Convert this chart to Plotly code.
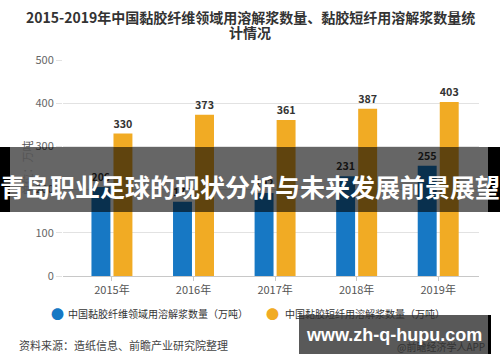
import plotly.graph_objects as go

years = ["2015年", "2016年", "2017年", "2018年", "2019年"]
viscose_fiber = [206, 172, 192, 231, 255]
viscose_staple = [330, 373, 361, 387, 403]
series_names = ["中国黏胶纤维领域用溶解浆数量（万吨）", "中国黏胶短纤用溶解浆数量（万吨）"]
colors = ["#1778c4", "#f1ab24"]
y_ticks = [0, 100, 200, 300, 400, 500]

W, H = 500, 362
L, R, T, B = 63, 21, 60, 86
PW, PH = W - L - R, H - T - B
FONT = "Noto Sans CJK SC"


def px(x):
    return (x - L) / PW


def py(y):
    return (H - B - y) / PH


fig = go.Figure()
for name, vals, c in zip(series_names, [viscose_fiber, viscose_staple], colors):
    fig.add_trace(go.Bar(
        x=years, y=vals, name=name, marker=dict(color=c, line=dict(width=0)),
        text=vals, textposition="outside", cliponaxis=False,
        textfont=dict(size=11, color="#333", family=FONT, weight="bold"),
        showlegend=False,
    ))

fig.update_layout(
    width=W, height=H, margin=dict(l=L, r=R, t=T, b=B),
    paper_bgcolor="white", plot_bgcolor="white",
    barmode="group", bargap=0.46, bargroupgap=0.14,
    font=dict(family=FONT, color="#666"),
    xaxis=dict(range=[-0.6, 4.5], showline=True, linecolor="#c8c8c8", linewidth=1,
               ticks="outside", ticklen=4, tickcolor="#c8c8c8",
               tickfont=dict(size=11, color="#555")),
    yaxis=dict(range=[0, 500], tickvals=y_ticks, showgrid=True, gridcolor="#e2e2e2",
               zeroline=False, ticks="outside", ticklen=6, tickcolor="#e2e2e2",
               tickfont=dict(size=11, color="#666"),
               title=dict(text="单位：万吨", font=dict(size=11, color="#555"), standoff=0)),
)

ann = []
# title
ann.append(dict(x=px(250), y=py(17), text="<b>2015-2019年中国黏胶纤维领域用溶解浆数量、黏胶短纤用溶解浆数量统</b>",
                font=dict(size=14, color="#333", family=FONT)))
ann.append(dict(x=px(250), y=py(32), text="<b>计情况</b>", font=dict(size=14, color="#333", family=FONT)))
# legend
ann.append(dict(x=px(57), y=py(313), text="●", font=dict(size=13, color=colors[0])))
ann.append(dict(x=px(66), y=py(313), text=series_names[0], xanchor="left",
                font=dict(size=10, color="#333", family=FONT)))
ann.append(dict(x=px(272), y=py(313), text="●", font=dict(size=13, color=colors[1])))
ann.append(dict(x=px(283), y=py(313), text=series_names[1], xanchor="left",
                font=dict(size=10, color="#333", family=FONT)))
# source
ann.append(dict(x=px(17), y=py(345), text="资料来源：造纸信息、前瞻产业研究院整理", xanchor="left",
                font=dict(size=11, color="#444", family=FONT)))
ann.append(dict(x=px(487), y=py(346), text="@前瞻经济学人APP", xanchor="right",
                font=dict(size=10, color="#333", family=FONT)))
# overlay banner text
ann.append(dict(x=px(250), y=py(186), text="<b>青岛职业足球的现状分析与未来发展前景展望</b>",
                font=dict(size=25, color="white", family=FONT)))
ann.append(dict(x=px(394), y=py(335), text="<b>www.zh-q-hupu.com</b>",
                font=dict(size=18, color="white", family="Liberation Sans")))
for a in ann:
    a.update(xref="paper", yref="paper", showarrow=False)
    a.setdefault("xanchor", "center")
    a.setdefault("yanchor", "middle")
fig.update_layout(annotations=ann)

shapes = [
    dict(x0=px(0), x1=px(500), y0=py(147), y1=py(212), fillcolor="rgba(0,0,0,0.6)"),
    dict(x0=px(0), x1=px(10), y0=py(147), y1=py(212), fillcolor="black"),
    dict(x0=px(488), x1=px(500), y0=py(147), y1=py(212), fillcolor="black"),
    dict(x0=px(299), x1=px(488), y0=py(315), y1=py(354), fillcolor="rgba(0,0,0,0.65)"),
    dict(x0=px(488), x1=px(491), y0=py(315), y1=py(354), fillcolor="black"),
]
for s in shapes:
    s.update(type="rect", xref="paper", yref="paper", layer="above", line=dict(width=0))
fig.update_layout(shapes=shapes)

fig.write_html("out.html")
